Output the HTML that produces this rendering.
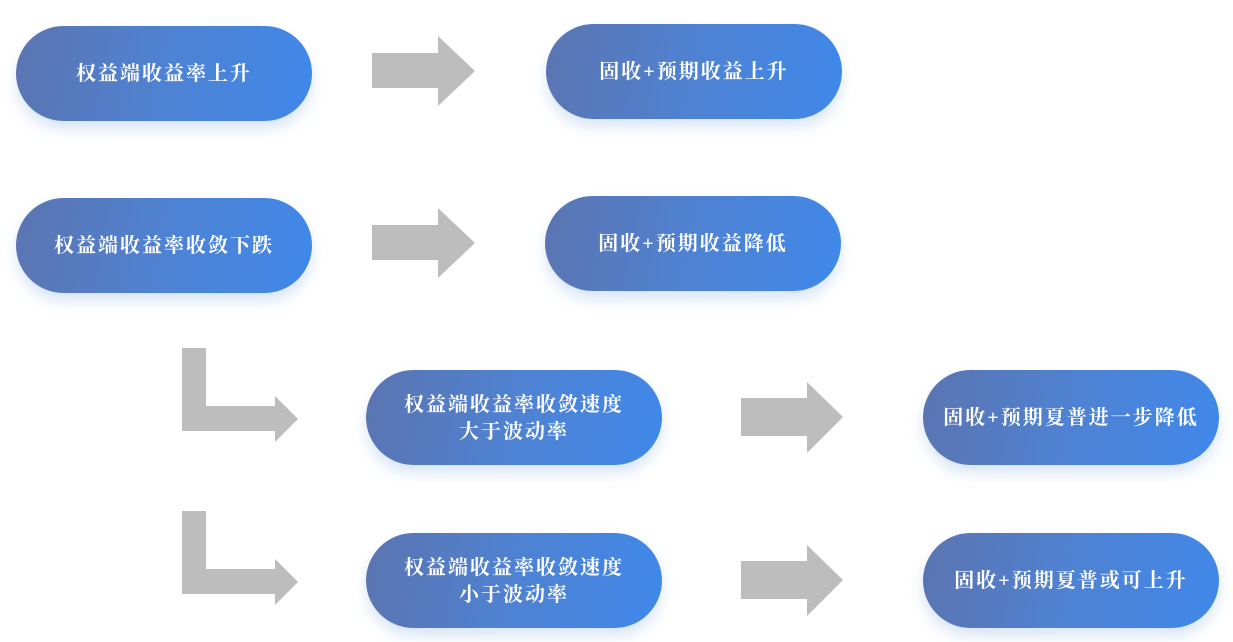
<!DOCTYPE html>
<html><head><meta charset="utf-8"><style>
html,body{margin:0;padding:0;background:#fff;width:1233px;height:642px;overflow:hidden;position:relative}
.p{position:absolute;width:296px;height:95px;border-radius:48px;background:linear-gradient(100deg,#5b74b0 0%,#4f82d2 50%,#3f88ea 100%);box-shadow:0 8px 14px rgba(120,160,220,0.28);color:#fff;display:flex;align-items:center;justify-content:center;text-align:center;font-family:"Liberation Serif","Noto Serif CJK SC",serif;font-weight:bold;font-size:20px;line-height:27px;letter-spacing:2px;padding-top:2px;box-sizing:border-box}
svg{position:absolute;left:0;top:0}
</style></head><body>
<svg width="1233" height="642">
<g fill="#bdbdbd">
<polygon points="372,53 438,53 438,36 475,71 438,106 438,88 372,88"/>
<polygon points="372,225 438,225 438,208 475,243 438,278 438,260 372,260"/>
<polygon points="741,398 807,398 807,382 843,417 807,453 807,436 741,436"/>
<polygon points="741,561 807,561 807,545 843,580 807,616 807,599 741,599"/>
<polygon points="182,348 206,348 206,406 275,406 275,396 298,419 275,442 275,431 182,431"/>
<polygon points="182,511 206,511 206,569 275,569 275,559 298,582 275,605 275,594 182,594"/>
</g>
</svg>
<div class="p" style="left:16px;top:26px">权益端收益率上升</div>
<div class="p" style="left:546px;top:24px">固收+预期收益上升</div>
<div class="p" style="left:16px;top:198px">权益端收益率收敛下跌</div>
<div class="p" style="left:545px;top:196px">固收+预期收益降低</div>
<div class="p" style="left:366px;top:370px">权益端收益率收敛速度<br>大于波动率</div>
<div class="p" style="left:923px;top:370px">固收+预期夏普进一步降低</div>
<div class="p" style="left:366px;top:533px">权益端收益率收敛速度<br>小于波动率</div>
<div class="p" style="left:923px;top:533px">固收+预期夏普或可上升</div>
</body></html>
